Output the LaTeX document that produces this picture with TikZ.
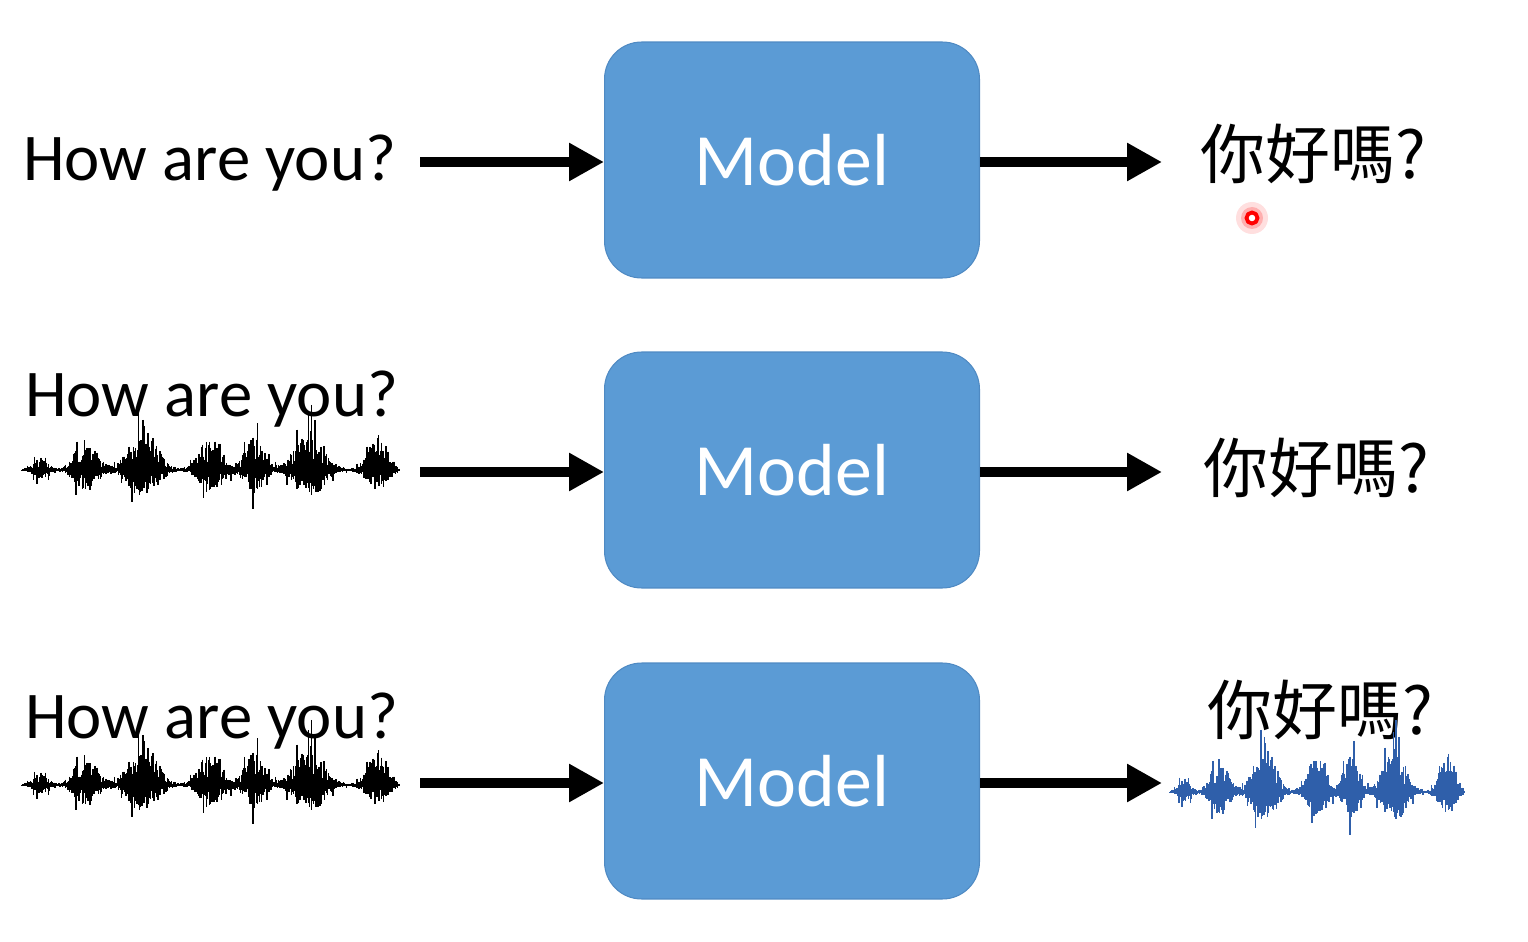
\documentclass[tikz,border=0pt]{standalone}
\usepackage{fontspec}
\setmainfont{Carlito}
\newfontfamily\cjk{Noto Sans CJK TC}
\usetikzlibrary{arrows.meta}
\definecolor{boxblue}{HTML}{5B9BD5}
\definecolor{boxedge}{HTML}{4F8AC3}
\definecolor{wavblue}{HTML}{2F5FAA}
\newcommand{\wave}[4]{% left end, length, colour, height
  \pgfmathsetseed{3}
  \draw[#3, line width=1.6pt] (#1) -- ++(#2,0);
  \foreach \t in {0,0.0025,...,1}{
    \pgfmathsetmacro{\up}{#4*(env(\t)*(10+30*rnd)+(rnd>0.94)*26*env(\t))}
    \pgfmathsetmacro{\dn}{#4*(env(\t)*(6+22*rnd)+(rnd>0.94)*32*env(\t))}
    \draw[#3, line width=0.9pt] (#1) ++(\t*#2,-\up) -- ++(0,\up+\dn);
  }
}
\begin{document}
\begin{tikzpicture}[x=0.02cm, y=-0.02cm, line join=round,
  model/.style={draw=boxedge, line width=0.6pt, fill=boxblue, rounded corners=0.74cm,
    minimum width=7.5cm, minimum height=4.72cm, text=white, font=\fontsize{42}{50}\selectfont},
  en/.style={font=\fontsize{38}{44}\selectfont, inner sep=0pt, anchor=base west},
  zh/.style={font=\cjk\fontsize{37}{44}\selectfont, inner sep=0pt, anchor=base west},
  arr/.style={line width=5.6pt, -{Triangle[length=0.7cm, width=0.72cm]}},
  declare function={env(\t)=0.025+0.3*exp(-((\t-0.05)/0.025)^2)+0.75*exp(-((\t-0.17)/0.04)^2)
    +1.0*exp(-((\t-0.32)/0.05)^2)+0.85*exp(-((\t-0.50)/0.04)^2)+0.8*exp(-((\t-0.615)/0.035)^2)
    +1.0*exp(-((\t-0.76)/0.05)^2)+0.85*exp(-((\t-0.94)/0.035)^2);}]
\useasboundingbox (0,0) rectangle (1528,942);
% models
\node[model] (m1) at (792,160) {Model};
\node[model] (m2) at (792,470) {Model};
\node[model] (m3) at (792,781) {Model};
% inputs
\node[en] (in1) at (23,181) {How are you?};
\node[en] (in2) at (25,417) {How are you?};
\node[en] (in3) at (25,738) {How are you?};
\coordinate (w2) at (22,470);
\coordinate (w3) at (22,785);
\wave{w2}{378}{black}{1}
\wave{w3}{378}{black}{1}
% outputs
\node[zh] (out1) at (1200,179) {你好嗎?};
\node[zh] (out2) at (1203,492) {你好嗎?};
\node[zh] (out3) at (1207,734) {你好嗎?};
\coordinate (w4) at (1170,792);
\wave{w4}{295}{wavblue}{1.1}
% arrows
\foreach \i/\y in {1/162, 2/472, 3/783} {
  \coordinate (a\i) at (420,\y);
  \coordinate (b\i) at (1162,\y);
  \draw[arr] (a\i) -- (a\i -| m\i.west);
  \draw[arr] (b\i -| m\i.east) -- (b\i);
}
% pointer
\coordinate (ptr) at (1252,218);
\fill[red!25, opacity=0.5] (ptr) circle (16);
\fill[red!50, opacity=0.5] (ptr) circle (11);
\draw[red, fill=white, line width=2.2pt] (ptr) circle (5.5);
\end{tikzpicture}
\end{document}
